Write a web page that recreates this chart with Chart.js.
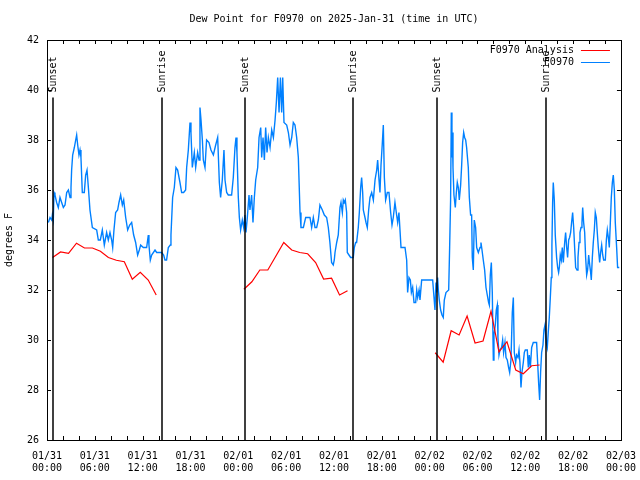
<!DOCTYPE html>
<html>
<head>
<meta charset="utf-8">
<script src="https://cdn.jsdelivr.net/npm/chart.js@4/dist/chart.umd.min.js"></script>
<style>html,body{margin:0;padding:0;background:#fff;}canvas{display:block;}</style>
</head>
<body>
<canvas id="c" width="640" height="480"></canvas>
<script>
// ---- data (x = hours since 2025-01-31 00:00 UTC) ----
const titleText = 'Dew Point for F0970 on 2025-Jan-31 (time in UTC)';
const yTitle = 'degrees F';
const dayLabels = ['01/31', '02/01', '02/02', '02/03'];
const seriesNames = ['F0970 Analysis', 'F0970'];

const obsHours = [
0.17,0.38,0.59,0.67,0.79,0.88,1.0,1.21,1.42,1.63,1.84,2.05,2.26,2.47,2.68,2.89,3.01,3.09,3.22,3.43,3.6,3.72,3.85,4.01,4.14,4.26,4.43,4.68,4.85,5.02,5.19,5.39,5.69,6.23,6.44,6.69,6.94,7.19,7.48,7.69,7.9,8.11,8.24,8.4,8.61,8.86,9.03,9.24,9.45,9.62,9.87,10.12,10.37,10.62,10.87,11.12,11.37,11.58,11.75,12.08,12.5,12.71,12.79,12.96,13.13,13.55,13.76,14.38,14.63,14.8,15.0,15.22,15.47,15.55,15.76,15.97,16.18,16.39,16.68,16.89,17.14,17.39,17.52,17.73,17.94,18.06,18.23,18.48,18.65,18.9,19.07,19.19,19.32,19.49,19.61,19.82,20.02,20.32,20.57,20.87,21.16,21.41,21.62,21.78,21.99,22.2,22.33,22.54,22.74,23.16,23.37,23.58,23.71,23.83,24.0,24.13,24.29,24.5,24.67,24.83,24.96,25.13,25.34,25.46,25.67,25.84,26.01,26.18,26.43,26.6,26.81,26.93,27.1,27.27,27.43,27.6,27.77,27.98,28.19,28.4,28.61,28.77,28.94,29.11,29.28,29.44,29.57,29.73,30.07,30.28,30.49,30.7,30.9,31.11,31.32,31.53,31.74,31.86,32.16,32.45,32.99,33.2,33.41,33.62,33.83,34.04,34.24,34.54,34.79,35.08,35.29,35.49,35.7,35.91,36.04,36.13,36.34,36.54,36.75,36.88,37.05,37.17,37.3,37.42,37.59,37.67,37.88,38.09,38.42,38.55,38.72,38.84,39.05,39.18,39.35,39.47,39.6,39.68,39.89,40.02,40.18,40.35,40.52,40.73,40.94,41.15,41.36,41.48,41.65,41.77,41.9,42.07,42.19,42.32,42.48,42.69,42.9,43.11,43.28,43.44,43.65,43.86,43.99,44.15,44.28,44.41,44.62,44.91,45.12,45.24,45.41,45.58,45.71,45.87,46.04,46.25,46.38,46.5,46.67,46.79,47.0,48.38,48.55,48.67,48.8,48.88,49.0,49.09,49.21,49.38,49.55,49.71,49.84,50.05,50.39,50.51,50.63,50.72,50.8,50.84,50.93,51.05,51.22,51.35,51.47,51.6,51.72,51.89,52.02,52.14,52.27,52.39,52.52,52.64,52.85,52.98,53.14,53.27,53.35,53.48,53.6,53.77,53.9,54.11,54.32,54.44,54.57,54.73,54.9,55.07,55.23,55.4,55.49,55.61,55.74,55.86,55.99,56.07,56.24,56.36,56.49,56.57,56.7,56.82,57.03,57.16,57.28,57.45,57.58,57.74,57.91,58.04,58.2,58.37,58.5,58.62,58.79,58.91,59.08,59.21,59.33,59.46,59.58,59.75,59.88,60.0,60.25,60.38,60.5,60.63,60.8,61.0,61.42,61.55,61.67,61.8,61.92,62.05,62.22,62.34,62.47,62.63,62.76,62.88,63.01,63.14,63.26,63.34,63.43,63.51,63.64,63.76,63.93,64.06,64.18,64.27,64.39,64.52,64.64,64.77,64.94,65.06,65.19,65.31,65.44,65.56,65.69,65.81,65.94,66.07,66.19,66.32,66.49,66.61,66.74,66.86,66.99,67.11,67.2,67.32,67.45,67.57,67.7,67.82,67.95,68.08,68.2,68.28,68.41,68.53,68.66,68.78,68.91,69.03,69.16,69.33,69.45,69.58,69.71,69.83,70.04,70.17,70.29,70.42,70.54,70.67,70.79,70.92,71.04,71.17,71.29,71.46,71.58,71.79
];
const obsValues = [
34.7,34.9,34.8,35.0,34.8,35.9,35.8,35.5,35.3,35.7,35.5,35.3,35.4,35.9,36.0,35.7,36.1,36.8,37.4,37.7,38.0,38.2,37.8,37.4,37.6,37.3,35.9,35.9,36.6,36.8,36.1,35.2,34.5,34.4,34.0,34.0,34.4,33.8,34.3,34.0,34.3,34.0,33.7,34.4,35.1,35.2,35.5,35.8,35.4,35.6,34.9,34.4,34.6,34.7,34.2,33.9,33.4,33.6,33.8,33.7,33.7,34.2,33.8,33.2,33.4,33.6,33.5,33.5,33.4,33.2,33.2,33.7,33.8,34.2,35.7,36.1,36.9,36.8,36.3,35.9,35.9,36.0,36.9,37.6,38.7,38.3,36.9,37.5,36.9,37.5,37.2,39.3,38.8,38.0,37.2,36.9,38.0,37.9,37.6,37.4,37.8,38.1,36.3,35.7,36.4,37.6,36.4,35.9,35.8,35.8,36.5,37.7,38.1,37.5,35.7,34.9,34.4,34.8,34.5,35.0,34.3,34.9,35.8,35.2,35.8,34.7,35.7,36.4,36.9,38.1,38.5,37.3,38.1,37.2,38.5,37.5,38.1,37.7,38.4,38.1,38.8,39.5,40.5,39.1,40.5,39.1,40.5,38.7,38.6,38.3,37.8,38.1,38.7,38.6,38.1,37.3,35.1,34.5,34.5,34.9,34.9,34.5,34.9,34.5,34.5,34.8,35.4,35.2,35.0,34.9,34.5,33.9,33.1,33.0,33.2,33.5,33.9,34.2,35.3,35.5,35.1,35.6,35.5,35.6,35.1,33.5,33.4,33.3,33.3,33.7,33.9,33.9,34.5,35.1,36.1,36.5,35.9,35.2,34.9,34.7,34.5,35.2,35.7,35.9,35.6,36.4,36.8,37.2,36.4,35.9,37.0,37.9,38.6,36.5,35.6,35.9,35.9,35.1,34.6,34.9,35.5,35.0,34.7,35.1,34.4,33.7,33.7,33.7,33.2,31.9,32.5,32.4,31.9,32.1,31.5,31.5,32.0,31.7,32.0,31.6,32.4,32.4,31.7,31.2,32.3,31.9,32.5,32.0,31.6,31.2,31.0,30.9,31.6,31.9,32.0,33.7,35.6,39.1,37.3,38.3,36.9,35.8,35.3,35.9,36.3,36.1,35.6,36.2,37.0,37.9,38.3,38.1,38.0,37.7,36.9,35.7,35.0,35.0,33.3,32.8,34.8,34.5,33.7,33.5,33.7,33.9,33.6,33.2,32.8,32.1,31.8,31.5,31.4,32.6,33.1,31.9,29.2,30.2,30.6,31.2,31.4,30.1,29.4,29.6,29.7,30.0,29.5,29.9,29.3,29.2,28.9,28.7,29.2,31.1,31.7,29.5,29.1,29.4,29.3,29.6,29.1,28.1,28.7,29.1,29.5,29.6,29.6,28.9,29.4,28.9,29.7,29.9,29.9,29.1,28.3,27.6,28.7,29.5,29.8,30.4,30.6,29.9,29.7,30.3,30.9,31.7,32.5,33.8,35.5,36.3,35.6,34.2,33.3,32.9,32.7,32.9,33.4,33.2,33.7,33.1,33.9,34.3,33.7,33.3,34.0,34.1,34.3,34.7,35.1,34.5,33.7,32.9,32.8,33.3,33.9,34.3,34.5,34.7,35.3,34.7,34.3,33.3,32.6,32.8,33.4,33.0,32.7,32.4,33.3,33.9,34.4,35.1,34.9,34.3,33.7,33.1,33.5,33.8,33.4,33.2,33.2,34.0,34.4,34.1,33.7,34.7,35.7,36.3,36.6,36.0,34.7,33.7,32.9,32.9
];

// hourly analysis; null marks a gap between runs
const anaHours = [
0.7,1.7,2.7,3.7,4.7,5.7,6.7,7.7,8.7,9.7,10.7,11.7,12.7,13.7,
19.0,
24.7,25.7,26.7,27.7,28.7,29.7,30.7,31.7,32.7,33.7,34.7,35.7,36.7,37.7,
43.0,
48.7,49.7,50.7,51.7,52.7,53.7,54.7,55.7,56.7,57.7,58.8,59.75,60.8,61.8
];
const anaValues = [
33.3,33.52,33.47,33.87,33.68,33.68,33.55,33.3,33.19,33.13,32.43,32.71,32.4,31.8,
null,
32.03,32.33,32.8,32.8,33.35,33.9,33.6,33.5,33.45,33.1,32.44,32.47,31.8,31.97,
null,
29.49,29.11,30.37,30.2,30.96,29.88,29.96,31.15,29.53,29.93,28.8,28.65,28.97,29.0
];

const sunHours = [0.79, 14.42, 24.88, 38.42, 48.96, 62.55];
const sunLabels = ['Sunset', 'Sunrise', 'Sunset', 'Sunrise', 'Sunset', 'Sunrise'];
const sunLineTopValue = 39.7;

// ---- build ----
const FONT = 'DejaVu Sans Mono';
const obsPts = obsHours.map((h, i) => ({x: h, y: obsValues[i]}));
const anaPts = anaHours.map((h, i) => ({x: h, y: anaValues[i]}));

function fmtTick(v) {
  if (v % 6 !== 0) return '';
  const day = Math.floor(v / 24);
  const hr = v % 24;
  return [dayLabels[day], String(hr).padStart(2, '0') + ':00'];
}

const framePlugin = {
  id: 'frame',
  afterDatasetsDraw(chart) {
    const {ctx, chartArea: a, scales: {x, y}} = chart;
    ctx.save();
    ctx.strokeStyle = '#000';
    ctx.lineWidth = 1;
    // title, centred over the plot area (gnuplot style)
    ctx.font = '10px "' + FONT + '"';
    ctx.fillStyle = '#000';
    ctx.textAlign = 'center';
    ctx.textBaseline = 'middle';
    ctx.fillText(titleText, (a.left + a.right) / 2, a.top - 21);
    // frame
    ctx.strokeRect(Math.round(a.left) + 0.5, Math.round(a.top) + 0.5,
                   Math.round(a.right - a.left), Math.round(a.bottom - a.top));
    // ticks (inward, mirrored)
    const tl = 4;
    ctx.beginPath();
    x.ticks.forEach(t => {
      const px = Math.round(x.getPixelForValue(t.value)) + 0.5;
      ctx.moveTo(px, a.bottom); ctx.lineTo(px, a.bottom - tl);
      ctx.moveTo(px, a.top); ctx.lineTo(px, a.top + tl);
    });
    y.ticks.forEach(t => {
      const py = Math.round(y.getPixelForValue(t.value)) + 0.5;
      ctx.moveTo(a.left, py); ctx.lineTo(a.left + tl, py);
      ctx.moveTo(a.right, py); ctx.lineTo(a.right - tl, py);
    });
    ctx.stroke();
    // sunrise / sunset markers
    ctx.lineWidth = 1.5;
    const topPx = y.getPixelForValue(sunLineTopValue);
    sunHours.forEach((h, i) => {
      const px = Math.round(x.getPixelForValue(h));
      ctx.beginPath();
      ctx.moveTo(px, topPx); ctx.lineTo(px, a.bottom);
      ctx.stroke();
      ctx.save();
      ctx.translate(px, topPx - 5);
      ctx.rotate(-Math.PI / 2);
      ctx.textAlign = 'left';
      ctx.textBaseline = 'middle';
      ctx.fillText(sunLabels[i], 0, 0);
      ctx.restore();
    });
    // legend (gnuplot style: text right-aligned, sample line to the right)
    chart.data.datasets.forEach((ds, i) => {
      const ly = a.top + 10 + i * 12;
      ctx.textAlign = 'right';
      ctx.textBaseline = 'middle';
      ctx.fillStyle = '#000';
      ctx.fillText(ds.label, a.right - 47, ly);
      ctx.strokeStyle = ds.borderColor;
      ctx.lineWidth = 1;
      ctx.beginPath();
      ctx.moveTo(a.right - 40, Math.round(ly) + 0.5);
      ctx.lineTo(a.right - 11, Math.round(ly) + 0.5);
      ctx.stroke();
    });
    ctx.restore();
  }
};

new Chart(document.getElementById('c').getContext('2d'), {
  type: 'line',
  data: {
    datasets: [
      {label: seriesNames[0], data: anaPts, borderColor: 'rgb(255,0,0)', borderWidth: 1.2,
       pointRadius: 0, tension: 0, spanGaps: false},
      {label: seriesNames[1], data: obsPts, borderColor: 'rgb(0,128,255)', borderWidth: 1.4,
       pointRadius: 0, tension: 0}
    ]
  },
  options: {
    responsive: false,
    animation: false,
    layout: {padding: {left: 0, right: 19, top: 40, bottom: 0}},
    plugins: {
      legend: {display: false},
      tooltip: {enabled: false},
      title: {display: false}
    },
    scales: {
      x: {
        type: 'linear', min: 0, max: 72,
        grid: {display: false, drawTicks: true, tickLength: 6}, border: {display: false},
        ticks: {stepSize: 2, autoSkip: false, maxRotation: 0, minRotation: 0,
                color: '#000', font: {family: FONT, size: 10}, padding: 4, callback: fmtTick},
        afterFit: s => { s.height = 40; }
      },
      y: {
        min: 26, max: 42,
        grid: {display: false, drawTicks: false}, border: {display: false},
        ticks: {stepSize: 2, color: '#000', font: {family: FONT, size: 10}, padding: 8},
        title: {display: true, text: yTitle, color: '#000', font: {family: FONT, size: 10}, padding: {top: 3, bottom: 0}},
        afterFit: s => { s.width = 47; }
      }
    }
  },
  plugins: [framePlugin]
});
</script>
</body>
</html>
